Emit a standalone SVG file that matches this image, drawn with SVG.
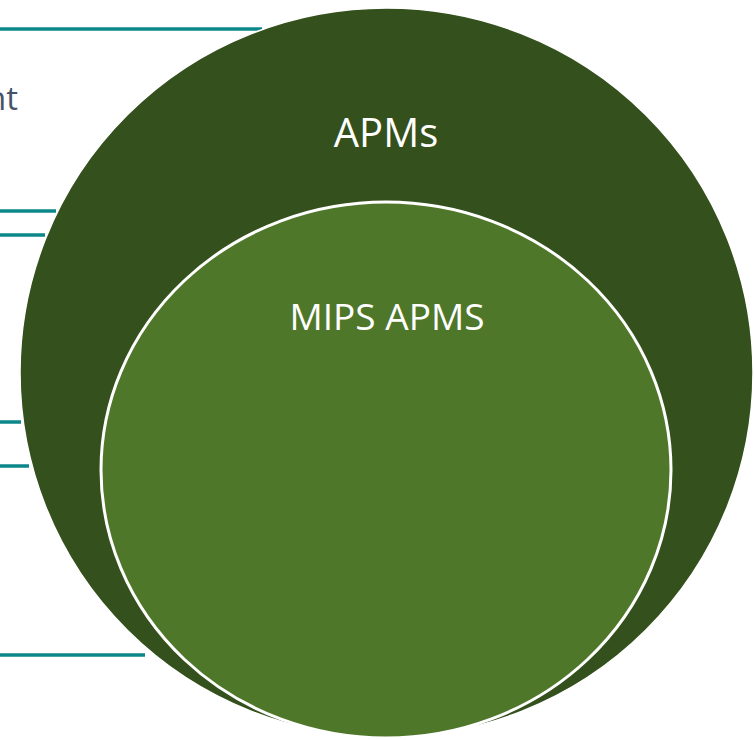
<svg xmlns="http://www.w3.org/2000/svg" width="754" height="740" viewBox="0 0 754 740">
<style>
.ln{stroke:#0b8689;stroke-width:3.5;fill:none}
.lbl{font-family:"Open Sans","Liberation Sans",sans-serif;fill:#fff;text-anchor:middle}
</style>
<rect width="754" height="740" fill="#fff"/>
<g id="connectors">
<line class="ln" x1="0" y1="29" x2="262" y2="29"/>
<line class="ln" x1="0" y1="211" x2="56" y2="211"/>
<line class="ln" x1="0" y1="235" x2="45" y2="235"/>
<line class="ln" x1="0" y1="422" x2="21" y2="422"/>
<line class="ln" x1="0" y1="466" x2="29" y2="466"/>
<line class="ln" x1="0" y1="655" x2="145" y2="655"/>
</g>
<text x="18" y="110" font-family="Open Sans,Liberation Sans,sans-serif" font-size="33" fill="#44546a" text-anchor="end">nt</text>
<g id="apms">
<ellipse cx="386.5" cy="372.5" rx="366.5" ry="364.5" fill="#34501c" stroke="#fff" stroke-width="1.5"/>
<text class="lbl" x="386" y="147" font-size="40">APMs</text>
</g>
<g id="mips-apms">
<ellipse cx="386" cy="470" rx="285" ry="268" fill="#4f772a" stroke="#fff" stroke-width="3"/>
<text class="lbl" x="387" y="330" font-size="37">MIPS APMS</text>
</g>
</svg>
